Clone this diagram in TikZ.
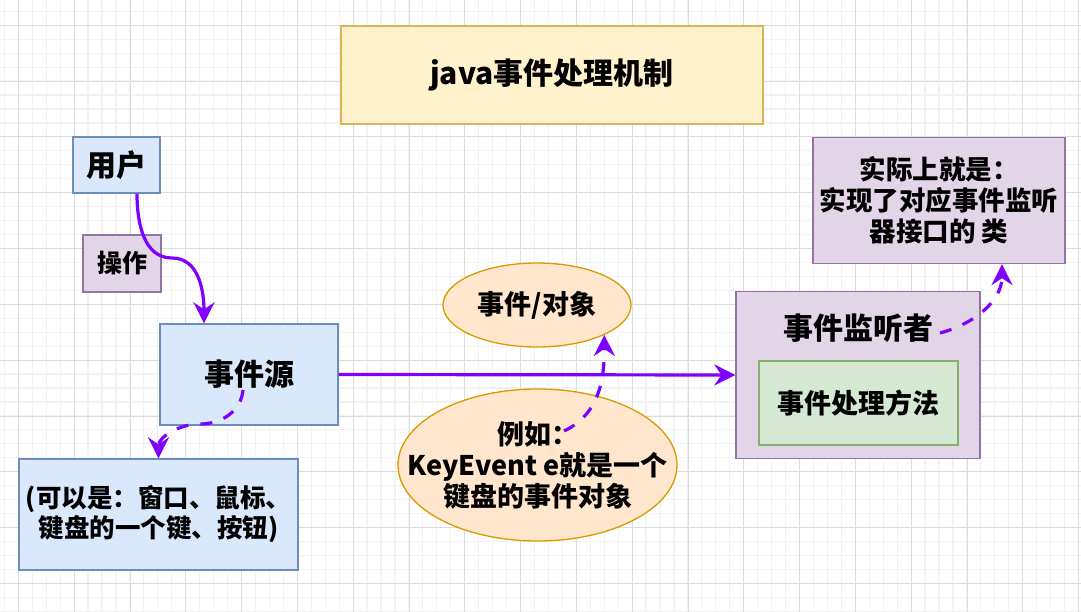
\documentclass[tikz,border=0pt]{standalone}
\usepackage{fontspec}
\setmainfont{Noto Sans CJK SC}
\usetikzlibrary{arrows.meta,shapes.geometric}

\definecolor{bluefill}{HTML}{DAE8FC}
\definecolor{blueline}{HTML}{6C8EBF}
\definecolor{purplefill}{HTML}{E1D5E7}
\definecolor{purpleline}{HTML}{9673A6}
\definecolor{yellowfill}{HTML}{FFF2CC}
\definecolor{yellowline}{HTML}{D6B656}
\definecolor{greenfill}{HTML}{D5E8D4}
\definecolor{greenline}{HTML}{82B366}
\definecolor{orangefill}{HTML}{FFE6CC}
\definecolor{orangeline}{HTML}{D79B00}
\definecolor{arrowpurple}{HTML}{7F00FF}
\definecolor{gridminor}{HTML}{F2F2F2}
\definecolor{gridmajor}{HTML}{DCDCDC}

\begin{document}
\begin{tikzpicture}[x=1pt,y=1pt,>={Stealth[length=21pt,width=21pt,inset=7pt]},
    every node/.style={font=\bfseries,inner sep=2pt,line width=1.3pt},
    fs/.style 2 args={font=\bfseries\fontsize{#1}{#2}\selectfont},
    bluebox/.style={rectangle,draw=blueline,fill=bluefill},
    purplebox/.style={rectangle,draw=purpleline,fill=purplefill},
    yellowbox/.style={rectangle,draw=yellowline,fill=yellowfill},
    greenbox/.style={rectangle,draw=greenline,fill=greenfill},
    orangeell/.style={ellipse,draw=orangeline,fill=orangefill},
    flow/.style={->,draw=arrowpurple,line width=3.2pt},
    hint/.style={flow,dash pattern=on 12pt off 12pt}]

    % page and grid
    \useasboundingbox (0,0) rectangle (1081,-612);
    \fill[white] (0,0) rectangle (1081,-612);
    \foreach \k in {-1,...,76}
      \draw[gridminor,line width=1.2pt] ({18.3+13.95*\k},0) -- ({18.3+13.95*\k},-612);
    \foreach \k in {-1,...,42}
      \draw[gridminor,line width=1.2pt] (0,{-25.3-13.95*\k}) -- (1081,{-25.3-13.95*\k});
    \foreach \k in {0,...,19}
      \draw[gridmajor,line width=0.8pt] ({18.3+55.8*\k},0) -- ({18.3+55.8*\k},-612);
    \foreach \k in {0,...,10}
      \draw[gridmajor,line width=0.8pt] (0,{-25.3-55.8*\k}) -- (1081,{-25.3-55.8*\k});

    % boxes
    \node[yellowbox,minimum width=422pt,minimum height=98pt,fs={30}{36}] (title) at (552,-75) {java事件处理机制};
    \node[bluebox,minimum width=87pt,minimum height=56pt,fs={30}{36}] (user) at (116.5,-165) {用户};
    \node[purplebox,minimum width=78pt,minimum height=57pt,fs={25}{30}] (op) at (122,-263.5) {操作};
    \node[bluebox,minimum width=178pt,minimum height=101pt,fs={30}{36}] (src) at (249,-374.5) {事件源};
    \node[bluebox,minimum width=279pt,minimum height=111pt,fs={25.5}{30},align=center] (srcnote) at (158.5,-514.5)
      {(可以是：窗口、鼠标、\\键盘的一个键、按钮)};
    \node[orangeell,minimum width=188pt,minimum height=84pt,fs={27}{32}] (evobj) at (537,-305) {事件/对象};
    \node[orangeell,minimum width=279pt,minimum height=152pt,inner sep=0pt,
      label={[anchor=center,fs={27}{31},align=center]center:例如：\\KeyEvent e就是一个\\键盘的事件对象}] (example) at (537.5,-465) {};
    \node[purplebox,minimum width=244pt,minimum height=167pt,
      label={[anchor=center,yshift=-37pt,fs={30}{36}]north:事件监听者}] (listener) at (858,-375) {};
    \node[greenbox,minimum width=199pt,minimum height=84pt,fs={27}{32}] (method) at (858.5,-403) {事件处理方法};
    \node[purplebox,minimum width=252pt,minimum height=126pt,fs={26.5}{31},align=center] (impl) at (939,-200.5)
      {实际上就是：\\实现了对应事件监听\\器接口的 类};

    % connectors
    \coordinate (opbend) at (172,-258);
    \coordinate (srcout) at (243,-390);
    \coordinate (srcbend) at (200,-424);
    \coordinate (exout) at (564,-431);
    \coordinate (lisout) at (940,-333);

    \draw[flow] ([xshift=20.5pt]user.south) to[out=-90,in=180] (opbend) to[out=0,in=90] ([xshift=-45pt]src.north);
    \draw[flow] (src.east) -- (listener.west);
    \draw[hint] (srcout) to[out=-95,in=0] (srcbend) to[out=180,in=90] (srcnote.north);
    \draw[hint] (exout) to[out=25,in=-90] (evobj.-24);
    \draw[hint] (lisout) to[out=15,in=-90] ([xshift=63pt]impl.south);
\end{tikzpicture}
\end{document}
